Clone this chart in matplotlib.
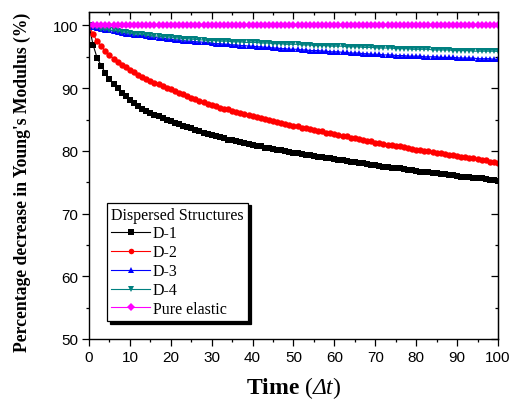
import matplotlib
matplotlib.use("Agg")
import matplotlib.pyplot as plt
from matplotlib.ticker import MultipleLocator

plt.rcParams["font.family"] = ["Liberation Sans", "DejaVu Sans"]
plt.rcParams["mathtext.fontset"] = "custom"
plt.rcParams["mathtext.rm"] = "Liberation Serif"
plt.rcParams["mathtext.bf"] = "Liberation Serif:bold"
plt.rcParams["mathtext.it"] = "Liberation Serif:italic"
plt.rcParams["mathtext.sf"] = "Liberation Serif:italic"

time = list(range(0, 101))

d1 = [100.0, 96.9, 94.8, 93.6, 92.4, 91.4, 90.6, 90.0, 89.3, 88.7, 88.1,
      87.6, 87.1, 86.7, 86.3, 86.0, 85.7, 85.5, 85.2, 85.0, 84.8,
      84.5, 84.3, 84.0, 83.8, 83.6, 83.4, 83.1, 82.9, 82.7, 82.5,
      82.3, 82.2, 82.0, 81.8, 81.7, 81.5, 81.4, 81.2, 81.1, 80.9,
      80.8, 80.7, 80.5, 80.4, 80.3, 80.2, 80.1, 79.9, 79.8, 79.7,
      79.6, 79.5, 79.4, 79.3, 79.2, 79.1, 79.0, 78.9, 78.8, 78.7,
      78.6, 78.5, 78.4, 78.3, 78.2, 78.1, 78.0, 77.9, 77.8, 77.7,
      77.6, 77.5, 77.4, 77.3, 77.3, 77.2, 77.1, 77.0, 76.9, 76.8,
      76.7, 76.6, 76.6, 76.5, 76.4, 76.3, 76.3, 76.2, 76.1, 76.0,
      75.9, 75.9, 75.8, 75.7, 75.6, 75.6, 75.5, 75.4, 75.3, 75.2]

d2 = [100.0, 98.6, 97.5, 96.7, 95.9, 95.3, 94.7, 94.2, 93.7, 93.3, 92.9,
      92.5, 92.1, 91.8, 91.5, 91.2, 90.9, 90.6, 90.4, 90.1, 89.9,
      89.6, 89.3, 89.1, 88.8, 88.5, 88.3, 88.0, 87.8, 87.5, 87.3,
      87.1, 86.9, 86.7, 86.6, 86.4, 86.2, 86.1, 85.9, 85.7, 85.6,
      85.4, 85.3, 85.1, 84.9, 84.8, 84.6, 84.5, 84.3, 84.2, 84.0,
      83.9, 83.7, 83.6, 83.5, 83.3, 83.2, 83.1, 82.9, 82.8, 82.7,
      82.5, 82.4, 82.3, 82.1, 82.0, 81.9, 81.7, 81.6, 81.5, 81.3,
      81.2, 81.1, 81.0, 80.9, 80.8, 80.7, 80.6, 80.5, 80.3, 80.2,
      80.1, 80.0, 79.9, 79.8, 79.7, 79.6, 79.5, 79.4, 79.3, 79.2,
      79.1, 79.0, 78.9, 78.8, 78.7, 78.6, 78.5, 78.3, 78.2, 78.1]

d3 = [100.0, 99.8, 99.6, 99.5, 99.3, 99.2, 99.1, 99.0, 98.8, 98.7, 98.6,
      98.5, 98.4, 98.4, 98.3, 98.2, 98.1, 98.0, 98.0, 97.9, 97.8,
      97.7, 97.7, 97.6, 97.5, 97.5, 97.4, 97.4, 97.3, 97.3, 97.2,
      97.1, 97.1, 97.0, 97.0, 96.9, 96.9, 96.8, 96.8, 96.7, 96.7,
      96.6, 96.6, 96.5, 96.5, 96.4, 96.4, 96.3, 96.3, 96.2, 96.2,
      96.2, 96.1, 96.1, 96.0, 96.0, 96.0, 95.9, 95.9, 95.8, 95.8,
      95.8, 95.7, 95.7, 95.6, 95.6, 95.6, 95.5, 95.5, 95.4, 95.4,
      95.4, 95.3, 95.3, 95.3, 95.2, 95.2, 95.2, 95.1, 95.1, 95.1,
      95.1, 95.0, 95.0, 95.0, 95.0, 94.9, 94.9, 94.9, 94.9, 94.85,
      94.8, 94.8, 94.8, 94.8, 94.7, 94.7, 94.7, 94.7, 94.6, 94.6]

d4 = [100.0, 99.8, 99.7, 99.5, 99.4, 99.3, 99.2, 99.1, 99.0, 98.9, 98.8,
      98.7, 98.6, 98.6, 98.5, 98.4, 98.3, 98.3, 98.2, 98.2, 98.1,
      98.0, 98.0, 97.9, 97.9, 97.8, 97.8, 97.7, 97.7, 97.6, 97.6,
      97.6, 97.5, 97.5, 97.5, 97.4, 97.4, 97.4, 97.3, 97.3, 97.3,
      97.3, 97.2, 97.2, 97.2, 97.1, 97.1, 97.1, 97.0, 97.0, 97.0,
      97.0, 96.9, 96.9, 96.9, 96.8, 96.8, 96.8, 96.8, 96.7, 96.7,
      96.7, 96.7, 96.6, 96.6, 96.6, 96.6, 96.5, 96.5, 96.5, 96.45,
      96.4, 96.4, 96.4, 96.4, 96.3, 96.3, 96.3, 96.3, 96.2, 96.2,
      96.2, 96.2, 96.2, 96.1, 96.1, 96.1, 96.1, 96.1, 96.0, 96.0,
      96.0, 96.0, 96.0, 95.9, 95.9, 95.9, 95.9, 95.9, 95.9, 95.85]

pure_elastic = [100.0] * 101

labels = ["D-1", "D-2", "D-3", "D-4", "Pure elastic"]
series = [d1, d2, d3, d4, pure_elastic]
colors = ["#000000", "#ff0000", "#0000ff", "#008080", "#ff00ff"]
markers = ["s", "o", "^", "v", "D"]
msizes = [4.0, 4.6, 4.8, 4.8, 4.0]

fig = plt.figure(figsize=(5.15, 4.06), dpi=100)
ax = fig.add_axes([0.1728, 0.1626, 0.7942, 0.8062])

for y, lab, c, m, ms in zip(series, labels, colors, markers, msizes):
    ax.plot(time, y, color=c, marker=m, markersize=ms, linewidth=0.8,
            markeredgewidth=0, label=lab)

ax.set_xlim(0, 100)
ax.set_ylim(50, 102.2)
ax.xaxis.set_major_locator(MultipleLocator(10))
ax.xaxis.set_minor_locator(MultipleLocator(5))
ax.yaxis.set_major_locator(MultipleLocator(10))
ax.yaxis.set_minor_locator(MultipleLocator(5))
ax.tick_params(which="both", direction="out", labelsize=11, width=0.9, pad=3)
ax.tick_params(which="major", length=5)
ax.tick_params(which="minor", length=2.5)
for sp in ax.spines.values():
    sp.set_linewidth(1.0)

# mirrored ticks pointing inward on top and right
top = ax.secondary_xaxis("top")
top.xaxis.set_major_locator(MultipleLocator(10))
top.xaxis.set_minor_locator(MultipleLocator(5))
top.tick_params(which="both", direction="in", labeltop=False, width=0.9)
top.tick_params(which="major", length=5)
top.tick_params(which="minor", length=2.5)
right = ax.secondary_yaxis("right")
right.yaxis.set_major_locator(MultipleLocator(10))
right.yaxis.set_minor_locator(MultipleLocator(5))
right.tick_params(which="both", direction="in", labelright=False, width=0.9)
right.tick_params(which="major", length=5)
right.tick_params(which="minor", length=2.5)

ax.set_xlabel(r"$\mathbf{Time}\ (\mathsf{Δt})$", fontsize=17,
              family="Liberation Serif", labelpad=7)
ax.set_ylabel("Percentage decrease in Young's Modulus (%)", fontsize=12.7,
              family="Liberation Serif", fontweight="bold")
ax.yaxis.set_label_coords(-0.143, 0.48)

leg = ax.legend(loc="lower left", bbox_to_anchor=(0.045, 0.055),
                borderaxespad=0, title="Dispersed Structures",
                prop={"family": "Liberation Serif", "size": 11.5},
                title_fontproperties={"family": "Liberation Serif", "size": 11.5},
                fancybox=False, edgecolor="black", framealpha=1,
                shadow={"color": "black", "alpha": 1.0},
                numpoints=1, handlelength=2.4, handletextpad=0.2,
                labelspacing=0.18, borderpad=0.25)
leg._legend_box.align = "left"
leg.get_frame().set_linewidth(0.9)
for h in leg.legend_handles:
    h.set_markersize(4.0)

fig.savefig("out.png", dpi=100)
